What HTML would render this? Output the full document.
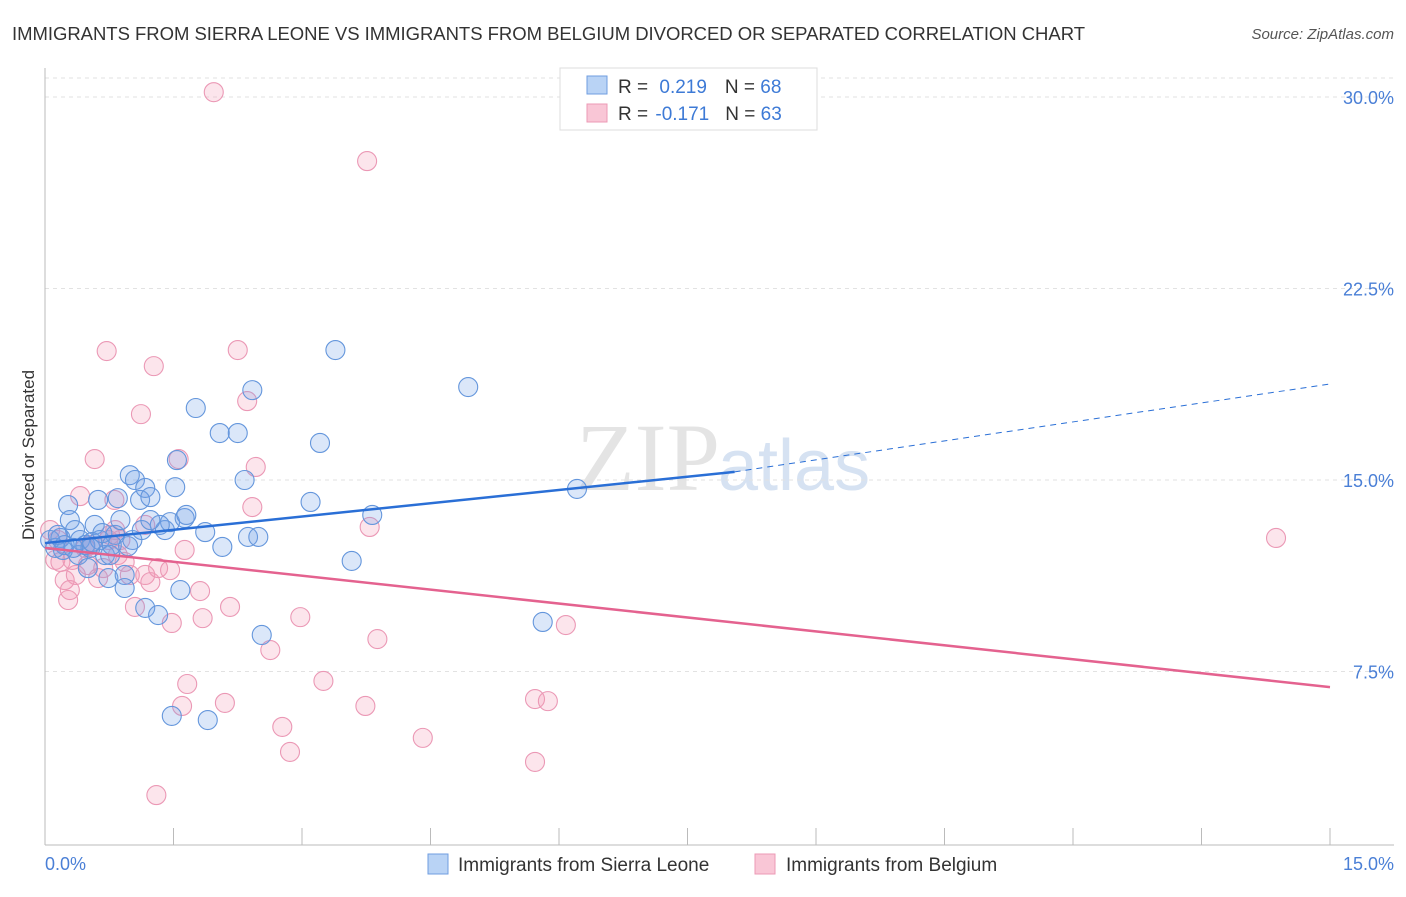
<!DOCTYPE html>
<html><head><meta charset="utf-8"><style>
body{margin:0;background:#fff;font-family:"Liberation Sans",sans-serif}
</style></head><body>
<svg width="1406" height="892" viewBox="0 0 1406 892" xmlns="http://www.w3.org/2000/svg">
<text x="12" y="40" font-size="18.5" fill="#333" textLength="1073">IMMIGRANTS FROM SIERRA LEONE VS IMMIGRANTS FROM BELGIUM DIVORCED OR SEPARATED CORRELATION CHART</text>
<text x="1394" y="39" font-size="15" fill="#555" font-style="italic" text-anchor="end">Source: ZipAtlas.com</text>
<text x="720" y="490" font-size="96" fill="#e4e4e4" font-family="Liberation Serif,serif" text-anchor="end">ZIP</text>
<text x="718" y="490" font-size="72" fill="#d6e2f2">atlas</text>
<g id="grid"></g><g id="axes"></g><g id="marks"></g>
<text transform="translate(34,455) rotate(-90)" font-size="17" fill="#333" text-anchor="middle">Divorced or Separated</text>
<text x="45" y="870" font-size="18" fill="#4a7fd6">0.0%</text>
<text x="1394" y="870" font-size="18" fill="#4a7fd6" text-anchor="end">15.0%</text>
<g>
<rect x="560" y="68" width="257" height="62" fill="#fff" stroke="#ddd"/>
<rect x="587" y="76" width="20" height="18" fill="#b9d3f5" stroke="#6f9ee0"/>
<rect x="587" y="104" width="20" height="18" fill="#f9c6d6" stroke="#ec9ab5"/>
<text x="618" y="93" font-size="19" fill="#333">R = <tspan fill="#3d7ad6" dx="6">0.219</tspan><tspan dx="18">N = </tspan><tspan fill="#3d7ad6">68</tspan></text>
<text x="618" y="120" font-size="19" fill="#333">R = <tspan fill="#3d7ad6" dx="2">-0.171</tspan><tspan dx="16">N = </tspan><tspan fill="#3d7ad6">63</tspan></text>
</g>
<g>
<rect x="428" y="854" width="20" height="20" fill="#b9d3f5" stroke="#6f9ee0"/>
<text x="458" y="871" font-size="19" fill="#333">Immigrants from Sierra Leone</text>
<rect x="755" y="854" width="20" height="20" fill="#f9c6d6" stroke="#ec9ab5"/>
<text x="786" y="871" font-size="19" fill="#333">Immigrants from Belgium</text>
</g>
</svg>
<script>
const yTicks=[7.5,15,22.5,30];
const yTickLabels=["7.5%","15.0%","22.5%","30.0%"];
const blueX=[0.06,0.12,0.18,0.23,0.27,0.29,0.35,0.39,0.41,0.47,0.50,0.53,0.58,0.62,0.64,0.70,0.74,0.76,0.82,0.85,0.88,0.93,0.93,0.99,1.02,1.05,1.11,1.13,1.17,1.17,1.23,1.32,1.40,1.46,1.52,1.54,1.58,1.63,1.48,1.76,1.87,1.90,2.04,2.07,2.25,2.33,2.37,2.42,2.49,2.53,3.10,3.21,3.39,3.58,3.82,4.94,5.81,6.21,0.15,0.21,0.33,0.55,0.78,0.67,0.97,1.34,1.65,1.23];
const blueY=[12.65,12.34,12.73,12.45,14.02,13.43,13.04,12.06,12.65,12.45,11.55,12.34,13.24,14.22,12.65,12.06,11.16,12.06,12.85,14.29,13.43,11.28,10.77,15.19,12.65,15.00,14.22,13.04,14.69,9.99,14.33,9.71,13.04,13.35,14.72,15.78,10.69,13.51,5.76,17.82,12.96,5.60,16.84,12.38,16.84,15.00,12.77,18.52,12.77,8.93,14.14,16.45,20.09,11.83,13.63,18.64,9.44,14.65,12.85,12.26,12.34,12.57,12.45,12.92,12.41,13.24,13.63,13.43];
const pinkX=[1.97,3.76,0.72,1.27,2.25,1.12,2.36,0.58,1.56,2.46,0.41,0.81,2.42,3.79,14.37,0.06,0.12,0.18,0.23,0.27,0.32,0.36,0.47,0.53,0.62,0.68,0.74,0.82,0.85,0.93,0.99,1.05,1.17,1.23,1.32,1.48,1.63,1.81,1.84,2.16,2.63,2.98,1.66,1.60,2.10,3.25,3.74,3.88,5.72,5.87,6.08,2.77,2.86,4.41,5.72,1.30,1.17,0.88,0.76,0.29,0.50,0.15,1.46];
const pinkY=[30.19,27.49,20.05,19.46,20.09,17.58,18.09,15.82,15.82,15.51,14.37,14.22,13.94,13.16,12.73,13.04,11.87,11.79,11.08,10.30,11.87,11.28,12.34,12.45,11.16,11.55,12.65,13.04,12.06,11.79,11.28,10.03,11.28,11.00,11.55,9.40,12.26,10.65,9.59,10.03,8.34,9.63,7.01,6.15,6.27,7.13,6.15,8.77,6.42,6.34,9.32,5.33,4.35,4.90,3.96,2.66,13.24,12.65,12.85,10.69,11.67,12.65,11.47];
const blueTrendX=[0,8.05,15];
const blueTrendY=[12.53,15.32,18.76];
const pinkTrendX=[0,15];
const pinkTrendY=[12.34,6.89];
const NS="http://www.w3.org/2000/svg";
const sx=v=>45+v/15*1285;
const sy=v=>863-v/7.5*191.5;
function mk(t,a,p){const e=document.createElementNS(NS,t);for(const k in a)e.setAttribute(k,a[k]);p.appendChild(e);return e;}
const grid=document.getElementById('grid'),axes=document.getElementById('axes'),marks=document.getElementById('marks');
let gl=mk('line',{x1:45,x2:1394,y1:78,y2:78,stroke:'#e2e2e2','stroke-dasharray':'4,4'},grid);


yTicks.forEach((t,i)=>{
 const l=mk('line',{x1:45,x2:1394,y1:sy(t),y2:sy(t),stroke:'#e2e2e2','stroke-dasharray':'4,4'},grid);
 
 
 const tx=mk('text',{x:1394,y:sy(t)+7,'font-size':18,fill:'#4a7fd6','text-anchor':'end'},grid);
 tx.textContent=yTickLabels[i];
 
 
});
let ya=mk('line',{x1:45,x2:45,y1:68,y2:845,stroke:'#bbb'},axes);


let xa=mk('line',{x1:45,x2:1394,y1:845,y2:845,stroke:'#bbb'},axes);


for(let i=0;i<=10;i++){const x=sx(i*1.5);
 const tk=mk('line',{x1:x,x2:x,y1:828,y2:845,stroke:'#bbb'},axes);
 
 }
function dots(X,Y,fill,stroke,name){X.forEach((x,i)=>{
 const c=mk('circle',{cx:sx(x),cy:sy(Y[i]),r:9.5,fill:fill,stroke:stroke,'stroke-width':1.1},marks);
 
 });}
dots(pinkX,pinkY,'rgba(242,150,180,0.25)','#eb98b5','belgium-point');
dots(blueX,blueY,'rgba(110,160,230,0.25)','#6496dc','sierra-leone-point');
let b1=mk('line',{x1:sx(blueTrendX[0]),y1:sy(blueTrendY[0]),x2:sx(blueTrendX[1]),y2:sy(blueTrendY[1]),stroke:'#2a6fd6','stroke-width':2.5},marks);


let b2=mk('line',{x1:sx(blueTrendX[1]),y1:sy(blueTrendY[1]),x2:sx(blueTrendX[2]),y2:sy(blueTrendY[2]),stroke:'#2a6fd6','stroke-width':1,'stroke-dasharray':'6,5'},marks);


let p1=mk('line',{x1:sx(pinkTrendX[0]),y1:sy(pinkTrendY[0]),x2:sx(pinkTrendX[1]),y2:sy(pinkTrendY[1]),stroke:'#e4628f','stroke-width':2.5},marks);


</script>
</body></html>
